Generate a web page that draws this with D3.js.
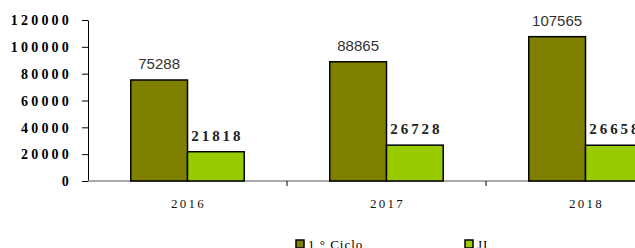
<!DOCTYPE html>
<html lang="en">
<head>
    <meta charset="UTF-8">
    <title>Ciclo / JI</title>
    <style>
        html, body { margin: 0; padding: 0; background: #fff; }
        #wrapper { width: 635px; height: 248px; overflow: hidden; }
    </style>
</head>
<body>
    <div id="wrapper"></div>
    <script src="https://d3js.org/d3.v7.min.js"></script>
    <script>
        // 資料
        const years = ['2016', '2017', '2018'];
        const seriesNames = ['1 ° Ciclo', 'JI'];
        const ciclo = [75288, 88865, 107565];
        const ji = [21818, 26728, 26658];
        const yTicks = [0, 20000, 40000, 60000, 80000, 100000, 120000];
        const colors = ['#808000', '#99cc00'];

        const width = 635, height = 248;
        const svg = d3.select('#wrapper').append('svg')
            .attr('width', width)
            .attr('height', height);

        const plotLeft = 88, plotBottom = 181, plotTop = 20;
        const step = 199;

        // X軸: 類別 (畫面右側被裁掉)
        const x0 = d3.scaleBand()
            .domain(years)
            .range([plotLeft, plotLeft + step * years.length])
            .paddingInner(0.43)
            .paddingOuter(0.215);

        const x1 = d3.scaleBand()
            .domain(seriesNames)
            .range([0, x0.bandwidth()]);

        const y = d3.scaleLinear()
            .domain([0, 120000])
            .range([plotBottom, plotTop]);

        // Y軸
        const yAxis = d3.axisLeft(y)
            .tickValues(yTicks)
            .tickFormat(d => d)
            .tickSizeOuter(0)
            .tickSizeInner(6)
            .tickPadding(10);

        const yAxisG = svg.append('g')
            .attr('transform', `translate(${plotLeft},0)`)
            .call(yAxis);
        yAxisG.select('.domain').attr('stroke', '#000');
        yAxisG.selectAll('.tick line').attr('stroke', '#000');
        yAxisG.selectAll('.tick text')
            .attr('font-family', '"Liberation Serif", "Times New Roman", serif')
            .attr('font-size', 14)
            .attr('font-weight', 'bold')
            .attr('letter-spacing', 3.2)
            .attr('fill', '#000')
            .attr('dy', '0.34em');

        // X軸線
        svg.append('line')
            .attr('x1', plotLeft).attr('x2', width)
            .attr('y1', plotBottom).attr('y2', plotBottom)
            .attr('stroke', '#8c8c8c')
            .attr('stroke-width', 1.5);

        // 類別分隔的 tick
        const boundaries = years.map(d => x0(d) - x0.step() * x0.paddingInner() / 2).slice(1);
        svg.selectAll('.xtick')
            .data(boundaries)
            .join('line')
            .attr('class', 'xtick')
            .attr('x1', d => d).attr('x2', d => d)
            .attr('y1', plotBottom).attr('y2', plotBottom + 5)
            .attr('stroke', '#000');

        // 年份文字
        svg.selectAll('.year')
            .data(years)
            .join('text')
            .attr('class', 'year')
            .attr('x', d => x0(d) + x0.bandwidth() / 2 + 1)
            .attr('y', 208)
            .attr('text-anchor', 'middle')
            .attr('font-family', '"Liberation Serif", "Times New Roman", serif')
            .attr('font-size', 13)
            .attr('letter-spacing', 2.2)
            .attr('fill', '#111')
            .text(d => d);

        // 長條圖
        const rows = years.map((yr, i) => ({ year: yr, values: [ciclo[i], ji[i]] }));
        const groups = svg.append('g')
            .selectAll('g')
            .data(rows)
            .join('g')
            .attr('transform', d => `translate(${x0(d.year)},0)`);

        groups.selectAll('rect')
            .data(d => d.values.map((v, k) => ({ key: seriesNames[k], value: v, k })))
            .join('rect')
            .attr('x', d => x1(d.key))
            .attr('y', d => y(d.value))
            .attr('width', x1.bandwidth())
            .attr('height', d => plotBottom - y(d.value))
            .attr('fill', d => colors[d.k])
            .attr('stroke', '#000')
            .attr('stroke-width', 1.5);

        // 數值標籤
        groups.selectAll('.val')
            .data(d => d.values.map((v, k) => ({ key: seriesNames[k], value: v, k })))
            .join('text')
            .attr('class', 'val')
            .attr('x', d => x1(d.key) + x1.bandwidth() / 2 + (d.k === 1 ? 1.5 : 0))
            .attr('y', d => y(d.value) - 11)
            .attr('text-anchor', 'middle')
            .attr('font-family', d => d.k === 0 ? '"Liberation Sans", Arial, sans-serif' : '"Liberation Serif", "Times New Roman", serif')
            .attr('font-size', 15)
            .attr('font-weight', d => d.k === 0 ? 'normal' : 'bold')
            .attr('letter-spacing', d => d.k === 0 ? 0 : 2.9)
            .attr('fill', d => d.k === 0 ? '#333' : '#222')
            .text(d => d.value);

        // 圖例
        const legendX = [296, 465];
        const legend = svg.append('g')
            .selectAll('g')
            .data(seriesNames)
            .join('g')
            .attr('transform', (d, i) => `translate(${legendX[i]},240)`);
        legend.append('rect')
            .attr('width', 8).attr('height', 8)
            .attr('fill', (d, i) => colors[i])
            .attr('stroke', '#000')
            .attr('stroke-width', 1.5);
        legend.append('text')
            .attr('x', 12)
            .attr('y', 9)
            .attr('font-family', '"Liberation Serif", "Times New Roman", serif')
            .attr('font-size', 13)
            .attr('letter-spacing', 1)
            .attr('fill', '#000')
            .text(d => d);
    </script>
</body>
</html>
